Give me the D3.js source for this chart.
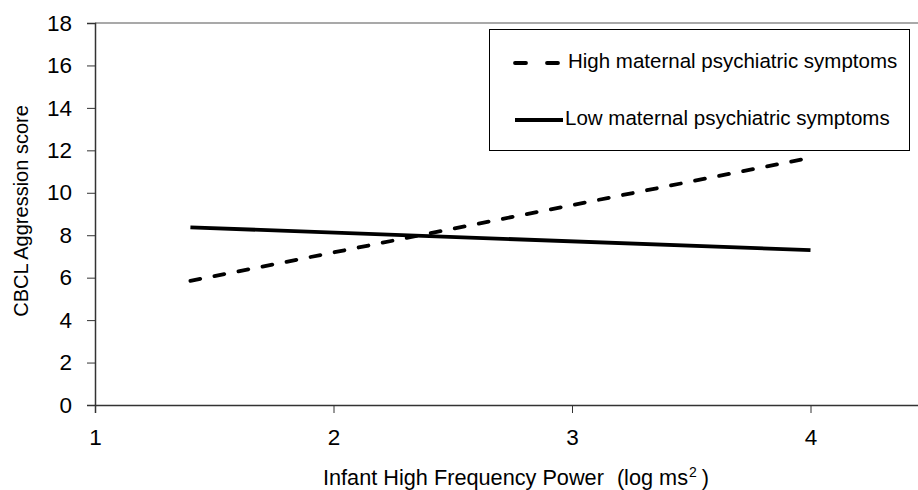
<!DOCTYPE html>
<html>
<head>
<meta charset="utf-8">
<style>
  * { margin: 0; padding: 0; box-sizing: border-box; }
  body { background: #fff; font-family: "Liberation Sans", Arial, sans-serif; }
  svg { display: block; }
</style>
</head>
<body>
<div id="chart"></div>
<script src="https://cdn.jsdelivr.net/npm/d3@7"></script>
<script>
// data
const seriesNames = ['High maternal psychiatric symptoms', 'Low maternal psychiatric symptoms'];
const xValues = [1.4, 4];
const highValues = [5.85, 11.65];
const lowValues = [8.37, 7.3];
const xTicks = [1, 2, 3, 4];
const yTicks = [0, 2, 4, 6, 8, 10, 12, 14, 16, 18];

(function() {
  const width = 918, height = 490;
  const plotLeft = 95, plotTop = 23, plotBottom = 405;
  const font = '"Liberation Sans", Arial, sans-serif';

  const svg = d3.select('#chart').append('svg')
    .attr('width', width).attr('height', height);

  const x = d3.scaleLinear().domain([1, 4.5]).range([plotLeft, plotLeft + 3.5 * 238.5]);
  const y = d3.scaleLinear().domain([0, 18]).range([plotBottom, plotTop]);

  // top border of plot area
  svg.append('line')
    .attr('x1', plotLeft).attr('x2', width).attr('y1', plotTop).attr('y2', plotTop)
    .attr('stroke', '#8c8c8c').attr('stroke-width', 1.5);

  // y axis
  const yAxis = svg.append('g').attr('transform', 'translate(' + plotLeft + ',0)')
    .call(d3.axisLeft(y).tickValues(yTicks).tickSize(8).tickPadding(15).tickFormat(d3.format('d')));
  yAxis.select('.domain').attr('stroke', '#333').attr('stroke-width', 1.5);
  yAxis.selectAll('.tick line').attr('stroke', '#333');
  yAxis.selectAll('text').attr('font-size', 22.5).attr('fill', '#000').attr('font-family', font);

  // x axis
  const xAxis = svg.append('g').attr('transform', 'translate(0,' + plotBottom + ')')
    .call(d3.axisBottom(x).tickValues(xTicks).tickSize(8).tickPadding(16).tickFormat(d3.format('d')));
  xAxis.select('.domain').attr('stroke', '#333').attr('stroke-width', 1.5);
  xAxis.selectAll('.tick line').attr('stroke', '#333');
  xAxis.selectAll('text').attr('font-size', 22.5).attr('fill', '#000').attr('font-family', font);

  // axis titles
  svg.append('text')
    .attr('transform', 'translate(28,211) rotate(-90)')
    .attr('text-anchor', 'middle')
    .attr('font-size', 20)
    .text('CBCL Aggression score');

  const xt = svg.append('text')
    .attr('x', 323).attr('y', 485)
    .attr('font-size', 21.7);
  xt.append('tspan').text('Infant High Frequency Power');
  xt.append('tspan').attr('dx', 13).text('(log ms');
  xt.append('tspan').attr('font-size', 14).attr('dy', -8).attr('dx', 1).text('2');
  xt.append('tspan').attr('dy', 8).attr('dx', 5).text(')');

  // series lines
  const line = d3.line().x((d, i) => x(xValues[i])).y(d => y(d));

  svg.append('path').datum(highValues)
    .attr('d', line)
    .attr('fill', 'none').attr('stroke', '#000').attr('stroke-width', 3.8)
    .attr('stroke-linecap', 'round')
    .attr('stroke-dasharray', '10 14.5');

  svg.append('path').datum(lowValues)
    .attr('d', line)
    .attr('fill', 'none').attr('stroke', '#000').attr('stroke-width', 3.8);

  // legend
  const lg = svg.append('g');
  lg.append('rect')
    .attr('x', 489.5).attr('y', 29.5).attr('width', 420).attr('height', 121)
    .attr('fill', '#fff').attr('stroke', '#000').attr('stroke-width', 1);

  lg.append('line')
    .attr('x1', 515).attr('x2', 561).attr('y1', 63).attr('y2', 63)
    .attr('stroke', '#000').attr('stroke-width', 3.8)
    .attr('stroke-linecap', 'round').attr('stroke-dasharray', '11 21');
  lg.append('text').attr('x', 568).attr('y', 68).attr('font-size', 20.5).text(seriesNames[0]);

  lg.append('line')
    .attr('x1', 515).attr('x2', 563).attr('y1', 120).attr('y2', 120)
    .attr('stroke', '#000').attr('stroke-width', 3.8);
  lg.append('text').attr('x', 565).attr('y', 125).attr('font-size', 20.5).text(seriesNames[1]);
})();
</script>
</body>
</html>
